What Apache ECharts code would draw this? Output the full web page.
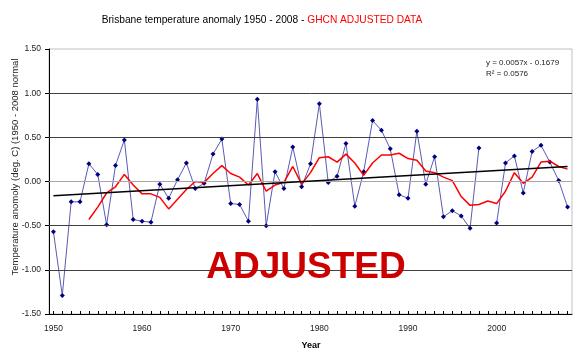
<!DOCTYPE html>
<html>
<head>
<meta charset="utf-8">
<script src="https://cdn.jsdelivr.net/npm/echarts@6/dist/echarts.min.js"></script>
<style>
html,body{margin:0;padding:0;background:#fff;}
#chart{width:580px;height:356px;}
</style>
</head>
<body>
<div id="chart"></div>
<script>
var years = ['1950','1951','1952','1953','1954','1955','1956','1957','1958','1959',
             '1960','1961','1962','1963','1964','1965','1966','1967','1968','1969',
             '1970','1971','1972','1973','1974','1975','1976','1977','1978','1979',
             '1980','1981','1982','1983','1984','1985','1986','1987','1988','1989',
             '1990','1991','1992','1993','1994','1995','1996','1997','1998','1999',
             '2000','2001','2002','2003','2004','2005','2006','2007','2008'];

var anomaly = [-0.57,-1.29,-0.23,-0.23,0.20,0.08,-0.49,0.18,0.47,-0.43,
               -0.45,-0.46,-0.03,-0.19,0.02,0.21,-0.08,-0.02,0.31,0.48,
               -0.25,-0.26,-0.45,0.93,-0.50,0.11,-0.08,0.39,-0.06,0.20,
               0.88,-0.01,0.06,0.43,-0.28,0.11,0.69,0.58,0.37,-0.15,
               -0.19,0.57,-0.03,0.28,-0.40,-0.33,-0.39,-0.53,0.38,null,
               -0.47,0.21,0.29,-0.13,0.34,0.41,0.22,0.01,-0.29];

var movingAvg = [null,null,null,null,-0.43,-0.29,-0.13,-0.06,0.08,-0.04,
                 -0.14,-0.14,-0.18,-0.31,-0.20,-0.09,0.00,-0.01,0.09,0.18,
                 0.09,0.05,-0.04,0.09,-0.11,-0.04,-0.01,0.17,-0.03,0.10,
                 0.27,0.28,0.22,0.31,0.21,0.07,0.21,0.30,0.30,0.32,
                 0.26,0.24,0.12,0.10,0.05,0.01,-0.17,-0.27,-0.26,-0.22,
                 -0.25,-0.11,0.10,-0.02,0.05,0.22,0.23,0.17,0.14];

var trendEnds = [-0.16, 0.17];

var yTicks = [-1.5, -1.0, -0.5, 0, 0.5, 1.0, 1.5];

var FONT = '"Liberation Sans", Arial, sans-serif';

var chart = echarts.init(document.getElementById('chart'), null, {renderer: 'canvas'});

var trendData = [[0, trendEnds[0]], [years.length - 1, trendEnds[1]]];

// horizontal gridlines (inner ticks only; the top is the plot border, the bottom is the axis)
var gridLines = yTicks.slice(1, yTicks.length - 1).map(function (v) {
  return {yAxis: v, lineStyle: {color: v === 0 ? '#a8a8a8' : '#404040', width: 1, type: 'solid'}};
});

var option = {
  animation: false,
  backgroundColor: '#ffffff',
  grid: {
    left: 49, right: 8, top: 49, bottom: 42,
    show: true, borderColor: '#c0c0c0', borderWidth: 1, backgroundColor: 'transparent'
  },
  xAxis: {
    type: 'category',
    data: years,
    boundaryGap: true,
    axisLine: {show: true, onZero: false, lineStyle: {color: '#000', width: 1}},
    axisTick: {show: true, inside: true, length: 3, interval: 0, alignWithLabel: true, lineStyle: {color: '#000'}},
    axisLabel: {interval: 9, margin: 10, fontFamily: FONT, fontSize: 8.5, color: '#222'},
    splitLine: {show: false}
  },
  yAxis: {
    type: 'value',
    min: yTicks[0], max: yTicks[yTicks.length - 1], interval: 0.5,
    axisLine: {show: true, onZero: false, lineStyle: {color: '#000', width: 1}},
    axisTick: {show: true, inside: false, length: 4, lineStyle: {color: '#000'}},
    axisLabel: {margin: 8, fontFamily: FONT, fontSize: 8.5, color: '#222',
      formatter: function (v) { return v.toFixed(2); }},
    splitLine: {show: false}
  },
  series: [
    {
      name: 'grid', type: 'line', data: [], z: 1, silent: true,
      markLine: {
        silent: true, symbol: ['none', 'none'], animation: false,
        label: {show: false},
        emphasis: {disabled: true},
        data: gridLines
      }
    },
    {
      name: 'Anomaly', type: 'line', data: anomaly, connectNulls: false,
      symbol: 'diamond', symbolSize: 5,
      itemStyle: {color: '#000080'},
      lineStyle: {color: '#5a5ab4', width: 1},
      z: 3
    },
    {
      name: '5 yr mean', type: 'line', data: movingAvg, connectNulls: false,
      symbol: 'none',
      lineStyle: {color: '#ff0000', width: 1.5},
      z: 4
    },
    {
      name: 'Trend', type: 'line', data: trendData,
      symbol: 'none',
      lineStyle: {color: '#000', width: 1.5},
      z: 5
    }
  ],
  graphic: [
    {
      type: 'text', x: 262, y: 20,
      style: {
        text: '{a|Brisbane temperature anomaly 1950 - 2008 - }{b|GHCN ADJUSTED DATA}',
        align: 'center', verticalAlign: 'middle',
        rich: {
          a: {fontFamily: FONT, fontSize: 10.2, fill: '#000', fontWeight: 'normal'},
          b: {fontFamily: FONT, fontSize: 10.2, fill: '#ff0000', fontWeight: 'normal'}
        }
      }
    },
    {
      type: 'text', x: 15, y: 167, rotation: Math.PI / 2,
      style: {
        text: 'Temperature anomoly (deg. C) (1950 - 2008 normal',
        fontFamily: FONT, fontSize: 9.5, fill: '#222',
        align: 'center', verticalAlign: 'middle'
      }
    },
    {
      type: 'text', x: 311, y: 346,
      style: {
        text: 'Year', fontFamily: FONT, fontSize: 9, fontWeight: 'bold', fill: '#000',
        align: 'center', verticalAlign: 'middle'
      }
    },
    {
      type: 'text', x: 486, y: 58,
      style: {
        text: 'y = 0.0057x - 0.1679\nR\u00B2 = 0.0576', fontFamily: FONT, fontSize: 8, fill: '#222',
        lineHeight: 10.5, align: 'left', verticalAlign: 'top'
      }
    },
    {
      type: 'text', x: 306, y: 268, z: 10,
      style: {
        text: 'ADJUSTED', fontFamily: FONT, fontSize: 37, fontWeight: 'bold', fill: '#cc0000',
        align: 'center', verticalAlign: 'middle'
      }
    }
  ]
};

chart.setOption(option);
</script>
</body>
</html>
